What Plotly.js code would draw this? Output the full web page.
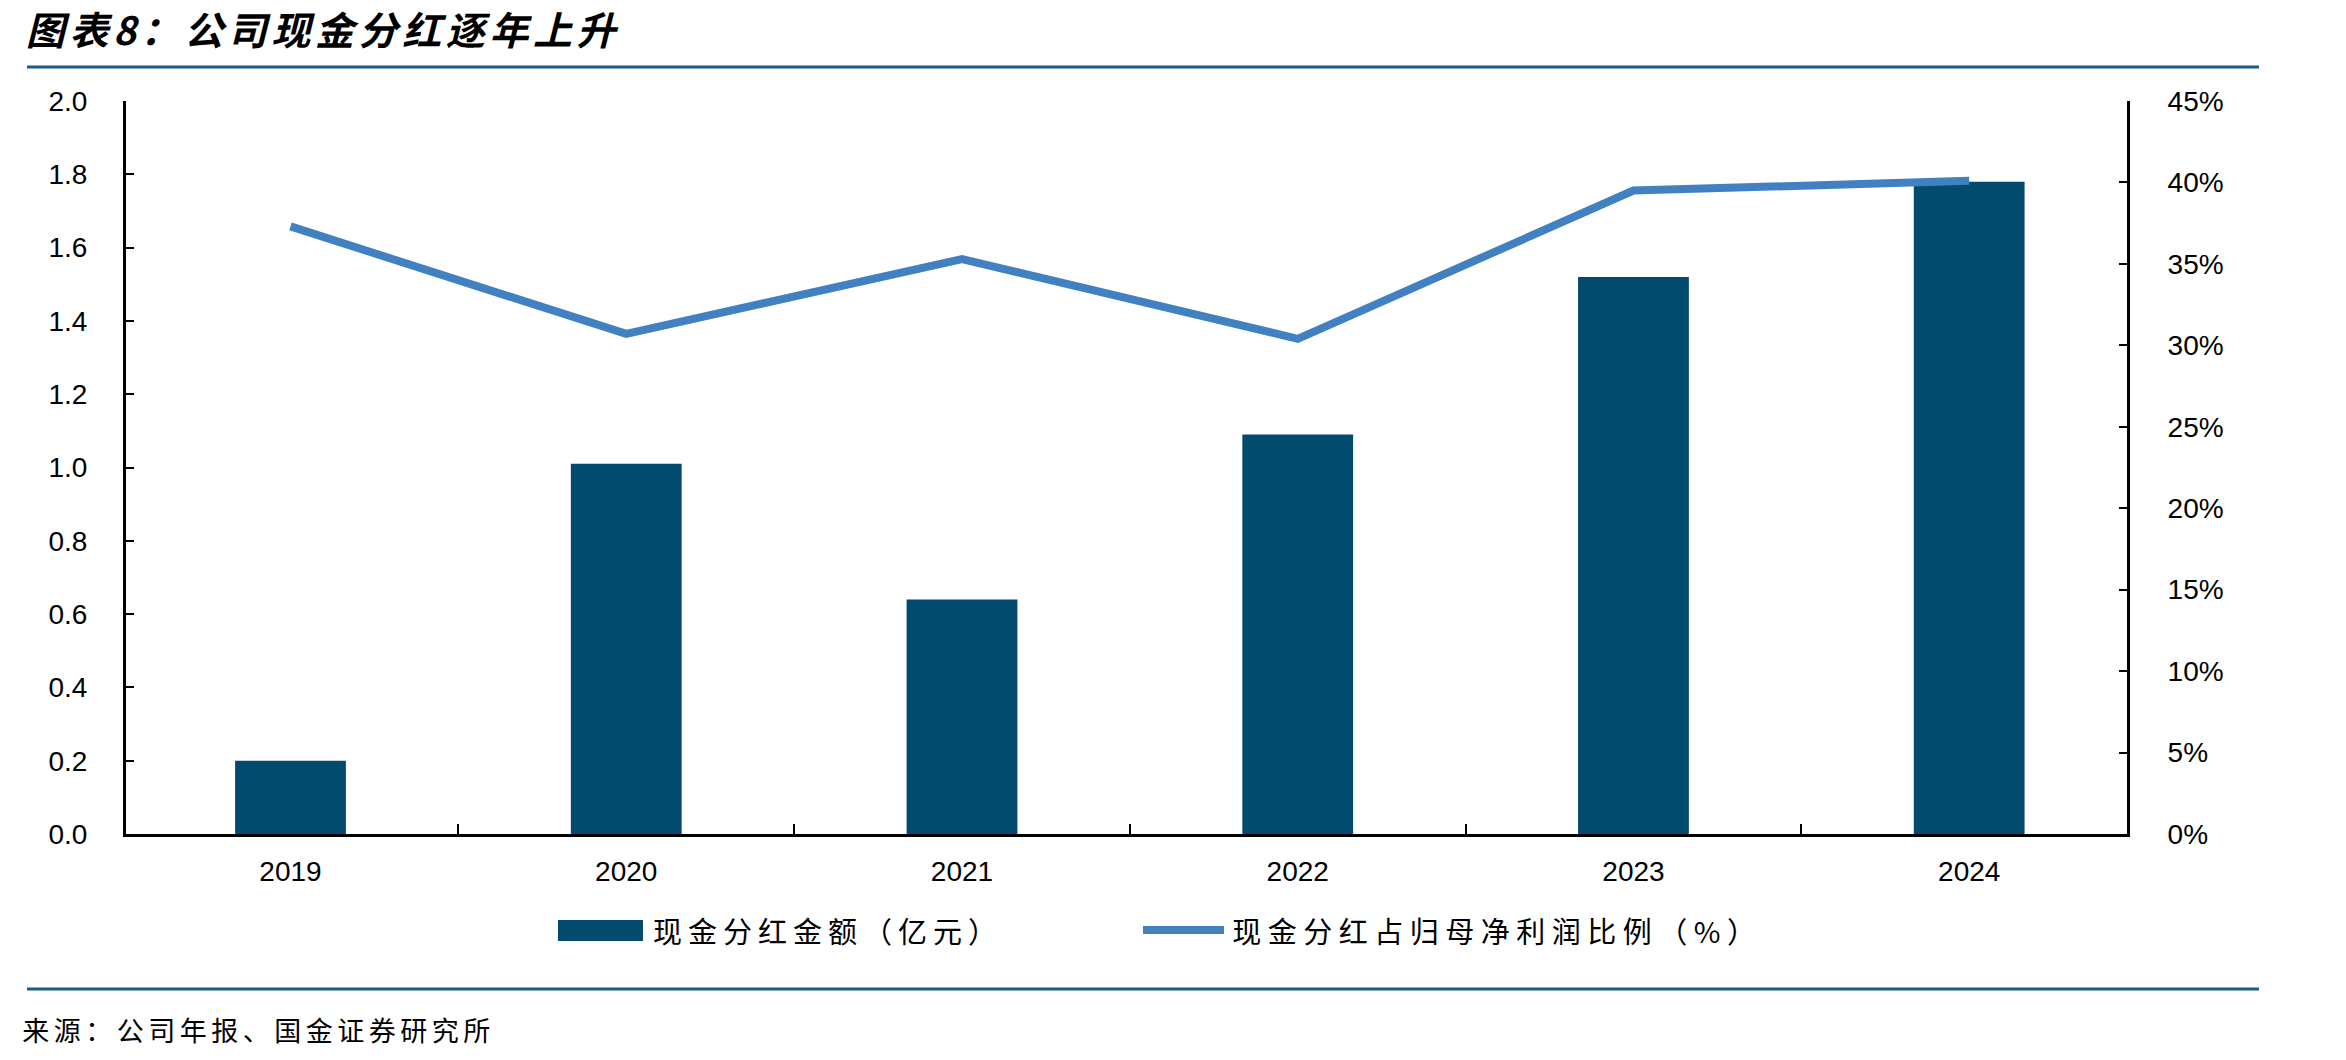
<!DOCTYPE html>
<html>
<head>
<meta charset="utf-8">
<script src="https://cdn.plot.ly/plotly-3.0.1.min.js"></script>
<style>
  html, body { margin: 0; padding: 0; background: #ffffff; }
  #chart { width: 2346px; height: 1060px; }
  /* widen the CJK captions a little (they are centre-anchored, so they grow evenly) */
  #chart g.annotation[data-index="0"] text { letter-spacing: 4.6px; }
  #chart g.annotation[data-index="1"] text { letter-spacing: 6px; }
  #chart g.annotation[data-index="2"] text { letter-spacing: 6.5px; }
  #chart g.annotation[data-index="3"] text { letter-spacing: 4.5px; }
</style>
</head>
<body>
<div id="chart"></div>
<script>
// Years on the category axis
const years = ['2019', '2020', '2021', '2022', '2023', '2024'];
// Cash dividend amount, 100 million CNY (left axis)
const dividendAmount = [0.20, 1.01, 0.64, 1.09, 1.52, 1.78];
// Dividend as share of net profit attributable to parent, % (right axis)
const payoutRatio = [37.3, 30.7, 35.3, 30.4, 39.5, 40.1];

const barName = '现金分红金额（亿元）';
const lineName = '现金分红占归母净利润比例（%）';
const chartTitle = '图表8：公司现金分红逐年上升';
const sourceNote = '来源：公司年报、国金证券研究所';

const W = 2346, H = 1060;
const M = { l: 126, r: 219, t: 101, b: 226 };
const plotW = W - M.l - M.r;
const plotH = H - M.t - M.b;
// pixel -> paper coordinate helpers for decorations outside the plot area
const px = x => (x - M.l) / plotW;
const py = y => (H - M.b - y) / plotH;

const barColor = '#024b6f';
const lineColor = '#4181c1';
const ruleColor = '#1d5a84';
const cjk = '"Noto Sans CJK SC", "Noto Sans", sans-serif';
const latin = '"Liberation Sans", Arial, sans-serif';

const traces = [
  {
    type: 'bar',
    x: years,
    y: dividendAmount,
    name: barName,
    marker: { color: barColor },
    width: 0.33,
    yaxis: 'y',
    showlegend: false,
    hoverinfo: 'skip'
  },
  {
    type: 'scatter',
    mode: 'lines',
    x: years,
    y: payoutRatio,
    name: lineName,
    line: { color: lineColor, width: 8 },
    yaxis: 'y2',
    showlegend: false,
    hoverinfo: 'skip'
  }
];

const shapes = [
  // header rule
  { type: 'line', xref: 'paper', yref: 'paper', x0: px(27), x1: px(2259), y0: py(67), y1: py(67),
    line: { color: ruleColor, width: 3 } },
  // footer rule
  { type: 'line', xref: 'paper', yref: 'paper', x0: px(27), x1: px(2259), y0: py(989), y1: py(989),
    line: { color: ruleColor, width: 3 } },
  // legend swatch: bars
  { type: 'rect', xref: 'paper', yref: 'paper', x0: px(558), x1: px(643), y0: py(941), y1: py(920),
    fillcolor: barColor, line: { width: 0 } },
  // legend swatch: line
  { type: 'line', xref: 'paper', yref: 'paper', x0: px(1143), x1: px(1224), y0: py(930), y1: py(930),
    line: { color: lineColor, width: 8 } }
];

const annotations = [
  { text: '<b><i>' + chartTitle + '</i></b>', xref: 'paper', yref: 'paper', x: px(324), y: py(28),
    xanchor: 'center', yanchor: 'middle', showarrow: false,
    font: { family: cjk, size: 39, color: '#000000' } },
  { text: barName, xref: 'paper', yref: 'paper', x: px(828), y: py(930),
    xanchor: 'center', yanchor: 'middle', showarrow: false,
    font: { family: cjk, size: 29, color: '#000000' } },
  { text: lineName, xref: 'paper', yref: 'paper', x: px(1497), y: py(930),
    xanchor: 'center', yanchor: 'middle', showarrow: false,
    font: { family: cjk, size: 29, color: '#000000' } },
  { text: sourceNote, xref: 'paper', yref: 'paper', x: px(258), y: py(1029),
    xanchor: 'center', yanchor: 'middle', showarrow: false,
    font: { family: cjk, size: 27, color: '#000000' } }
];

const layout = {
  width: W,
  height: H,
  margin: M,
  paper_bgcolor: '#ffffff',
  plot_bgcolor: '#ffffff',
  showlegend: false,
  font: { family: latin, size: 28, color: '#000000' },
  xaxis: {
    type: 'category',
    range: [-0.49, 5.47],
    showline: true, linecolor: '#000000', linewidth: 3,
    ticks: 'inside', tickson: 'boundaries', ticklen: 10, tickwidth: 2, tickcolor: '#000000',
    showgrid: false, zeroline: false,
    ticklabelstandoff: 10,
    tickfont: { family: latin, size: 28, color: '#000000' }
  },
  yaxis: {
    range: [0, 2], dtick: 0.2, tickformat: '.1f',
    showline: true, linecolor: '#000000', linewidth: 3,
    ticks: 'inside', ticklen: 8, tickwidth: 2, tickcolor: '#000000',
    showgrid: false, zeroline: false,
    ticklabelstandoff: 30,
    tickfont: { family: latin, size: 28, color: '#000000' }
  },
  yaxis2: {
    overlaying: 'y', side: 'right',
    range: [0, 45], dtick: 5, ticksuffix: '%',
    showline: true, linecolor: '#000000', linewidth: 3,
    ticks: 'inside', ticklen: 8, tickwidth: 2, tickcolor: '#000000',
    showgrid: false, zeroline: false,
    ticklabelstandoff: 32,
    tickfont: { family: latin, size: 28, color: '#000000' }
  },
  shapes: shapes,
  annotations: annotations
};

Plotly.newPlot('chart', traces, layout, { displayModeBar: false, staticPlot: true });
</script>
</body>
</html>
